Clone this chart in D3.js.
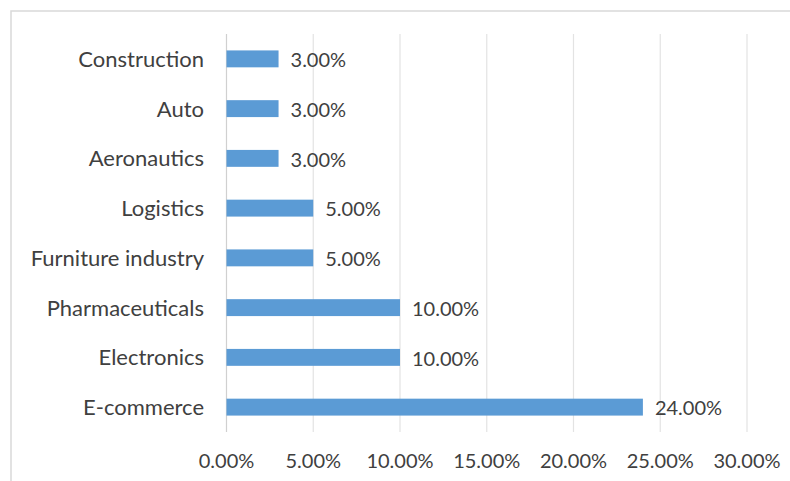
<!DOCTYPE html>
<html>
<head>
<meta charset="utf-8">
<script src="https://cdn.jsdelivr.net/npm/d3@7"></script>
<style>
  body { margin: 0; background: #fff; }
  text { font-family: Lato, "Open Sans", sans-serif; fill: #404040; }
</style>
</head>
<body>
<svg width="790" height="481"></svg>
<script>
const categories = ["Construction", "Auto", "Aeronautics", "Logistics", "Furniture industry", "Pharmaceuticals", "Electronics", "E-commerce"];
const values = [3, 3, 3, 5, 5, 10, 10, 24];
const ticks = [0, 5, 10, 15, 20, 25, 30];

const svg = d3.select("svg");
const margin = {left: 226.5, right: 43, top: 34, bottom: 49};
const width = 790, height = 481;

svg.append("rect")
    .attr("x", 11).attr("y", 11)
    .attr("width", 800).attr("height", 500)
    .attr("fill", "none")
    .attr("stroke", "#d9d9d9")
    .attr("stroke-width", 1.5);

const x = d3.scaleLinear().domain([0, 30]).range([margin.left, width - margin.right]);
const y = d3.scaleBand().domain(categories).range([margin.top, height - margin.bottom]).paddingInner(0.66).paddingOuter(0.33);

// gridlines
svg.selectAll("line.grid")
    .data(ticks)
    .enter().append("line")
    .attr("class", "grid")
    .attr("x1", d => x(d)).attr("x2", d => x(d))
    .attr("y1", margin.top).attr("y2", height - margin.bottom)
    .attr("stroke", d => d === 0 ? "#d0d0d0" : "#e3e3e3")
    .attr("stroke-width", 1.2);

// bars
const data = categories.map((c, i) => ({c, v: values[i]}));
svg.selectAll("rect.bar")
    .data(data)
    .enter().append("rect")
    .attr("class", "bar")
    .attr("x", x(0))
    .attr("y", d => y(d.c))
    .attr("width", d => x(d.v) - x(0))
    .attr("height", y.bandwidth())
    .attr("fill", "#5b9bd5");

// value labels
svg.selectAll("text.val")
    .data(data)
    .enter().append("text")
    .attr("class", "val")
    .attr("x", d => x(d.v) + 12)
    .attr("y", d => y(d.c) + y.bandwidth() / 2 + 1)
    .attr("dy", "0.36em")
    .style("font-size", "20px")
    .text(d => d.v.toFixed(2) + "%");

// category labels
svg.selectAll("text.cat")
    .data(categories)
    .enter().append("text")
    .attr("class", "cat")
    .attr("x", 204)
    .attr("y", d => y(d) + y.bandwidth() / 2)
    .attr("dy", "0.36em")
    .attr("text-anchor", "end")
    .style("font-size", "22px")
    .text(d => d);

// x tick labels
svg.selectAll("text.tick")
    .data(ticks)
    .enter().append("text")
    .attr("class", "tick")
    .attr("x", d => x(d))
    .attr("y", 468)
    .attr("text-anchor", "middle")
    .style("font-size", "20px")
    .text(d => d.toFixed(2) + "%");
</script>
</body>
</html>
